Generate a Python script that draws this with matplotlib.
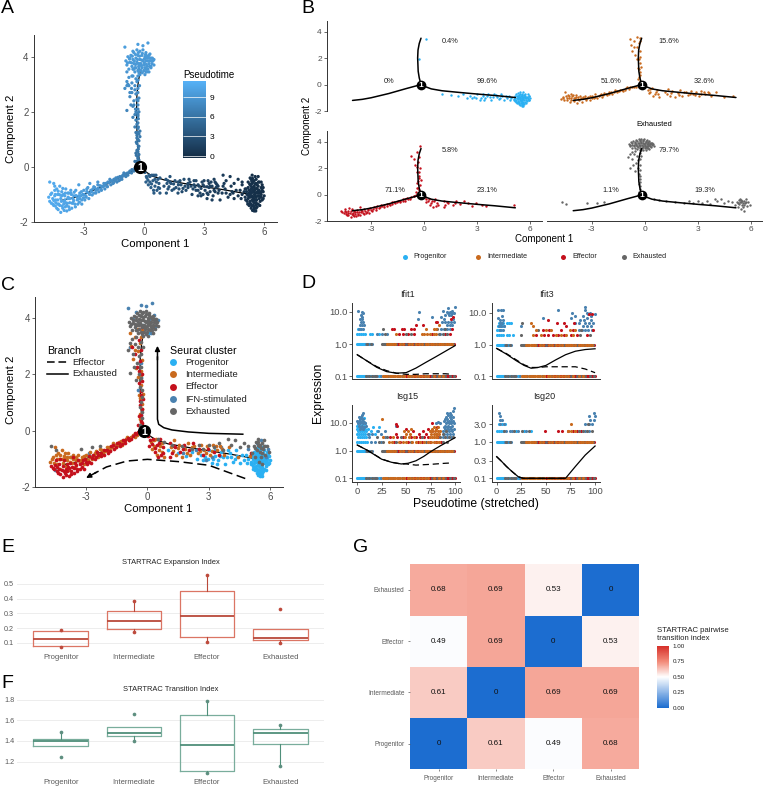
#!/usr/bin/env python3
"""Pseudotime trajectory, STARTRAC indices and pairwise transition heatmap."""

import matplotlib

matplotlib.use("Agg")
import matplotlib.pyplot as plt
from matplotlib.cm import ScalarMappable
from matplotlib.colors import LinearSegmentedColormap, Normalize

plt.rcParams["font.family"] = ["Liberation Sans", "DejaVu Sans"]
plt.rcParams["axes.unicode_minus"] = False

W, H = 763, 788
GREY = "#4D4D4D"

# cells on the trajectory: (component 1, component 2, pseudotime)
progenitor_cells = [
    (5.3, -1.0, .2), (5.4, -1.2, .2), (5.5, -.9, .1), (5.6, -1.1, .1), (5.7, -.95, .1), (5.2, -1.15, .3),
    (5.35, -1.35, .2), (5.5, -1.45, .2), (5.45, -1.25, .1), (5.6, -1.3, .1), (5.75, -1.15, .1), (5.85, -1.0, 0),
    (5.9, -.85, 0), (5.65, -.8, .1), (5.4, -.75, .2), (5.25, -.85, .3), (5.15, -1.0, .4), (5.3, -1.25, .2),
    (5.55, -1.05, .1), (5.4, -1.05, .2), (5.45, -1.4, .2), (5.6, -1.5, .1), (5.35, -1.5, .2), (5.5, -1.6, .1),
    (5.25, -1.4, .3), (5.7, -1.35, .1), (5.8, -1.25, 0), (6.0, -1.05, 0), (5.95, -.9, 0), (5.15, -1.25, .4),
    (5.05, -1.1, .5), (5.5, -.7, .1), (5.7, -.7, .1), (5.85, -.75, 0), (5.3, -.65, .2), (5.6, -.95, .1),
    (5.35, -.95, .2), (5.45, -.85, .2), (5.75, -1.05, .1), (5.2, -.75, .3), (5.55, -1.2, .1), (5.65, -1.45, .1),
    (5.3, -1.1, .2), (5.5, -1.3, .2), (5.4, -.6, .2), (5.85, -1.1, 0), (5.6, -.6, .1), (5.95, -1.15, 0),
    (5.42, -1.1, .2), (5.52, -1.0, .1), (5.62, -1.2, .1), (5.32, -.88, .2), (5.22, -1.05, .3), (5.72, -.85, .1),
    (5.48, -1.15, .1), (5.58, -1.38, .1), (5.38, -1.42, .2), (5.28, -1.32, .3), (5.68, -1.05, .1), (5.82, -.92, 0),
    (5.12, -.9, .4), (5.08, -1.2, .5), (5.18, -1.35, .4), (5.78, -1.4, .1), (5.9, -1.2, 0), (5.42, -.92, .2),
    (5.55, -.82, .1), (5.65, -.92, .1), (5.35, -.8, .2), (5.5, -1.52, .1), (5.42, -1.58, .2), (5.58, -1.6, .1),
    (4.9, -1.0, .5), (4.7, -1.05, .6), (4.6, -.85, .7), (4.4, -.9, .8), (4.2, -1.1, .9), (4.05, -.8, 1.0),
    (3.9, -.95, 1.1), (3.8, -1.2, 1.2), (3.6, -.75, 1.3), (3.45, -1.05, 1.4), (3.3, -.9, 1.5), (3.15, -1.15, 1.6),
    (3.0, -.7, 1.7), (2.8, -.95, 1.8), (2.6, -.85, 1.9), (2.4, -1.0, 2.0), (2.2, -.75, 2.2), (1.9, -.9, 2.4),
    (1.5, -.8, 2.7), (1.0, -.7, 3.0), (4.35, -.7, .85), (3.95, -.7, 1.05), (3.3, -.7, 1.5), (4.8, -.85, .55),
    (4.5, -1.15, .75), (3.7, -.95, 1.25), (3.4, -1.2, 1.45), (2.95, -1.0, 1.7), (-.3, 1.9, 6.5), (.1, 3.45, 9.0),
    (4.85, -1.15, .5), (4.3, -1.0, .85), (4.1, -.95, 1.0), (3.55, -.9, 1.35), (3.2, -1.0, 1.55), (2.7, -1.05, 1.9),
]
intermediate_cells = [
    (-4.75, -1.1, 10.9), (-4.6, -.95, 10.8), (-4.5, -.6, 10.7), (-4.4, -1.2, 10.7), (-4.35, -.8, 10.6),
    (-4.3, -1.0, 10.6), (-4.25, -1.35, 10.6), (-4.2, -.7, 10.5), (-4.15, -1.15, 10.5), (-4.1, -.9, 10.5),
    (-4.0, -1.25, 10.4), (-3.95, -1.05, 10.4), (-3.9, -.8, 10.3), (-3.85, -1.4, 10.3), (-3.8, -.95, 10.3),
    (-3.7, -1.15, 10.2), (-3.65, -.85, 10.2), (-3.55, -1.3, 10.1), (-3.5, -1.05, 10.1), (-3.4, -.85, 10.0),
    (-3.3, -1.15, 9.9), (-3.2, -.95, 9.8), (-3.1, -1.2, 9.7), (-3.0, -.85, 9.6), (-2.9, -1.05, 9.5),
    (-2.8, -.75, 9.4), (-2.7, -1.0, 9.3), (-2.55, -.8, 9.2), (-2.4, -.95, 9.0), (-2.3, -.65, 8.9),
    (-2.15, -.8, 8.8), (-2.0, -.6, 8.6), (-1.85, -.7, 8.4), (-1.7, -.45, 8.2), (-1.55, -.6, 8.0),
    (-1.4, -.4, 7.9), (-1.25, -.5, 7.7), (-1.05, -.3, 7.5), (-.9, -.35, 7.3), (-.7, -.15, 7.0), (-.5, -.15, 6.6),
    (-4.65, -1.0, 10.8), (-4.55, -1.15, 10.8), (-4.45, -.85, 10.7), (-4.42, -1.0, 10.7), (-4.28, -.88, 10.6),
    (-4.18, -1.02, 10.5), (-4.05, -.78, 10.4), (-4.02, -1.0, 10.4), (-3.92, -.95, 10.3), (-3.78, -1.1, 10.3),
    (-3.62, -1.0, 10.2), (-3.48, -.92, 10.1), (-3.38, -1.05, 10.0), (-3.25, -1.05, 9.9), (-3.12, -.9, 9.8),
    (-2.98, -1.0, 9.6), (-2.82, -.92, 9.5), (-2.62, -.9, 9.3), (-2.5, -.72, 9.2), (-2.35, -.82, 9.0),
    (-2.2, -.68, 8.9), (-2.05, -.72, 8.7), (-1.9, -.6, 8.5), (-1.75, -.58, 8.3), (-1.6, -.5, 8.1), (-1.45, -.5, 7.9),
    (-1.3, -.38, 7.8), (-1.15, -.42, 7.6), (-1.0, -.22, 7.4), (-.82, -.22, 7.2), (-.62, -.22, 6.9),
    (-.3, .3, 6.0), (-.35, .6, 6.2), (-.25, .95, 6.5), (-.4, 1.25, 6.7), (-.3, 1.6, 7.0), (-.45, 1.9, 7.3),
    (-.55, 2.2, 7.6), (-.25, 2.5, 7.9), (-.7, 2.55, 7.9), (-.45, 2.8, 8.2), (-.8, 3.0, 8.4), (-.35, 3.1, 8.5),
    (-.6, 3.3, 8.7), (-.85, 3.45, 8.9), (-.25, 3.55, 8.9), (-.45, 3.6, 9.0), (-.2, 1.3, 6.7), (-.3, 2.1, 7.5),
    (-.38, .42, 6.0), (-.28, .75, 6.3), (-.35, 1.15, 6.6), (-.32, 1.95, 7.3), (-.62, 2.85, 8.2), (-.3, 3.3, 8.7),
    (.15, -.4, 4.3), (.3, -.55, 4.2), (.4, -.3, 4.1), (.55, -.7, 3.9), (.7, -.45, 3.8), (.8, -.95, 3.7),
    (1.15, -.6, 3.4), (1.3, -.35, 3.2), (1.4, -.85, 3.1), (1.55, -.5, 3.0), (1.7, -.95, 2.9), (1.85, -.65, 2.7),
    (2.0, -.45, 2.6), (2.1, -.85, 2.5), (2.3, -.55, 2.4), (2.45, -.8, 2.2), (2.6, -.5, 2.1), (2.75, -.7, 2.0),
    (2.9, -.55, 1.9), (3.05, -.85, 1.8), (3.2, -.5, 1.7), (3.4, -.7, 1.5), (3.55, -.55, 1.4), (3.75, -.85, 1.3),
    (4.0, -.6, 1.1), (4.45, -.95, .8), (5.0, -.9, .45), (.22, -.65, 4.3), (.48, -.85, 4.0), (.62, -.55, 3.9),
    (.3, -.35, 4.2), (.72, -.75, 3.8), (1.25, -.72, 3.3), (1.48, -.62, 3.1), (1.95, -.78, 2.6), (2.2, -.6, 2.4),
    (2.55, -.72, 2.1), (2.85, -.78, 1.9), (3.15, -.72, 1.7), (3.35, -.55, 1.5), (3.65, -.65, 1.3),
]
effector_cells = [
    (-4.7, -1.25, 10.9), (-4.55, -1.35, 10.8), (-4.45, -1.05, 10.7), (-4.35, -1.5, 10.7), (-4.3, -1.2, 10.6),
    (-4.2, -1.4, 10.6), (-4.15, -1.65, 10.5), (-4.1, -1.05, 10.5), (-4.05, -1.5, 10.5), (-4.0, -1.35, 10.4),
    (-3.95, -1.2, 10.4), (-3.85, -1.6, 10.3), (-3.8, -1.15, 10.3), (-3.75, -1.45, 10.3), (-3.7, -1.3, 10.2),
    (-3.6, -1.5, 10.2), (-3.55, -1.15, 10.1), (-3.45, -1.35, 10.1), (-3.4, -1.05, 10.0), (-3.3, -1.35, 9.9),
    (-3.2, -1.15, 9.8), (-3.1, -1.35, 9.7), (-3.05, -1.0, 9.7), (-2.95, -1.2, 9.6), (-2.85, -.9, 9.5),
    (-2.75, -1.15, 9.4), (-2.65, -.85, 9.3), (-2.5, -.95, 9.1), (-2.45, -.75, 9.1), (-2.25, -.9, 8.8),
    (-2.1, -.7, 8.7), (-1.95, -.8, 8.5), (-1.8, -.55, 8.3), (-1.65, -.65, 8.1), (-1.5, -.45, 8.0),
    (-1.35, -.55, 7.8), (-1.2, -.35, 7.6), (-1.1, -.45, 7.5), (-.95, -.25, 7.4), (-.8, -.3, 7.2), (-.6, -.1, 6.8),
    (-.45, -.05, 6.5), (-3.65, -.95, 10.2), (-4.4, -1.3, 10.7), (-3.9, -1.3, 10.3), (-4.25, -1.0, 10.6),
    (-4.62, -1.32, 10.8), (-4.5, -1.22, 10.8), (-4.42, -1.42, 10.7), (-4.3, -1.35, 10.6), (-4.28, -1.55, 10.6),
    (-4.12, -1.25, 10.5), (-4.08, -1.42, 10.5), (-3.98, -1.58, 10.4), (-3.92, -1.45, 10.4), (-3.82, -1.32, 10.3),
    (-3.72, -1.55, 10.3), (-3.58, -1.32, 10.2), (-3.5, -1.22, 10.1), (-3.42, -1.45, 10.1), (-3.32, -1.2, 9.9),
    (-3.22, -1.28, 9.8), (-3.15, -1.05, 9.8), (-3.02, -1.12, 9.6), (-2.88, -1.1, 9.5), (-2.72, -.98, 9.4),
    (-2.58, -1.02, 9.2), (-2.4, -.85, 9.0), (-2.28, -.78, 8.9), (-2.12, -.85, 8.8), (-1.98, -.68, 8.6),
    (-1.82, -.72, 8.4), (-1.68, -.52, 8.2), (-1.52, -.58, 8.0), (-1.38, -.45, 7.8), (-1.22, -.48, 7.6),
    (-1.08, -.35, 7.5), (-.92, -.32, 7.3), (-.72, -.2, 7.0), (-.55, -.12, 6.7),
    (-.3, .35, 6.0), (-.4, .5, 6.1), (-.25, .75, 6.3), (-.35, 1.05, 6.6), (-.3, 1.4, 6.9), (-.4, 1.7, 7.1),
    (-.25, 2.0, 7.4), (-.5, 2.25, 7.6), (-.35, 2.45, 7.8), (-.6, 2.7, 8.1), (-.3, 2.85, 8.2), (-.75, 2.95, 8.3),
    (-.4, 3.2, 8.6), (-.25, 3.65, 9.0), (-.2, 1.1, 6.6), (-.45, .2, 5.9), (-.28, 1.75, 7.2), (-.33, .55, 6.2),
    (-.25, .25, 6.0), (-.38, .9, 6.4), (-.3, 1.25, 6.7), (-.42, 2.1, 7.5),
    (.05, -.2, 4.5), (.1, -.55, 4.4), (.25, -.3, 4.3), (.35, -.75, 4.2), (.45, -.5, 4.1), (.6, -.3, 3.9),
    (.65, -.85, 3.8), (.75, -.6, 3.8), (1.1, -.45, 3.5), (1.2, -.8, 3.3), (1.35, -.6, 3.2), (1.6, -.75, 3.0),
    (1.8, -.5, 2.8), (2.05, -.7, 2.6), (2.25, -.45, 2.4), (2.5, -.65, 2.2), (2.7, -.85, 2.0), (2.95, -.65, 1.8),
    (3.25, -.75, 1.6), (3.5, -.85, 1.4), (5.05, -.8, .5), (.12, -.35, 4.4), (.2, -.48, 4.3), (.38, -.62, 4.1),
    (.55, -.45, 4.0), (.5, -.95, 3.9), (.78, -.78, 3.7), (1.12, -.95, 3.4), (1.3, -.55, 3.2), (1.72, -.65, 2.9),
]
ifn_cells = [
    (-.95, 4.35, 9.7), (-.3, 4.45, 9.7), (-.05, 4.4, 9.6), (.2, 4.5, 9.6), (-.55, 4.2, 9.6), (.3, 4.1, 9.6),
    (-.7, 3.95, 9.5), (.1, 3.95, 9.5), (-.2, 3.75, 9.4), (.35, 3.65, 9.4), (.5, 3.9, 9.5), (-.5, 3.55, 9.3),
    (.15, 3.45, 9.3), (-.85, 2.95, 8.5), (-.3, 2.4, 7.9), (-.45, 1.45, 7.0), (-.3, .55, 6.2),
    (5.55, -.35, 0), (5.75, -.55, 0), (5.35, -.45, .1), (5.9, -.65, 0), (5.8, -.95, 0), (4.9, -.65, .5),
    (3.6, -.6, 1.4), (3.15, -.95, 1.6), (2.85, -1.05, 1.8), (2.35, -.7, 2.3), (1.75, -.8, 2.8),
    (-3.75, -.95, 10.2), (-2.85, -.8, 9.5), (-4.5, -1.4, 10.7),
]
exhausted_cells = [
    (-.9, 3.85, 9.6), (-.85, 3.7, 9.5), (-.8, 4.0, 9.6), (-.75, 3.55, 9.4), (-.7, 3.8, 9.5), (-.65, 4.05, 9.5),
    (-.6, 3.65, 9.4), (-.55, 3.9, 9.5), (-.5, 4.15, 9.5), (-.5, 3.75, 9.4), (-.45, 3.45, 9.2), (-.4, 3.95, 9.5),
    (-.4, 3.6, 9.3), (-.35, 4.25, 9.5), (-.35, 3.8, 9.4), (-.3, 3.5, 9.2), (-.3, 4.05, 9.5), (-.25, 3.65, 9.3),
    (-.2, 3.9, 9.4), (-.2, 4.2, 9.5), (-.15, 3.5, 9.2), (-.15, 3.75, 9.3), (-.1, 4.05, 9.4), (-.1, 3.6, 9.2),
    (-.05, 3.85, 9.3), (-.05, 4.25, 9.4), (0, 3.5, 9.2), (0, 3.7, 9.3), (.05, 4.0, 9.4), (.05, 3.6, 9.2),
    (.1, 3.85, 9.3), (.1, 4.15, 9.4), (.15, 3.65, 9.2), (.2, 3.95, 9.3), (.2, 3.55, 9.2), (.25, 3.75, 9.3),
    (.25, 4.05, 9.3), (.3, 3.85, 9.3), (.35, 3.95, 9.3), (.35, 3.6, 9.2), (.4, 3.75, 9.3), (.45, 3.85, 9.3),
    (.5, 3.7, 9.3), (-.2, 3.35, 9.0), (.05, 3.35, 9.0), (-.55, 3.3, 8.9), (.25, 3.45, 9.1), (-.75, 3.25, 8.8),
    (-.82, 3.78, 9.5), (-.72, 3.92, 9.5), (-.62, 3.78, 9.4), (-.58, 4.02, 9.5), (-.48, 3.85, 9.4), (-.42, 3.72, 9.3),
    (-.42, 4.08, 9.5), (-.32, 3.9, 9.4), (-.28, 3.75, 9.3), (-.28, 4.15, 9.5), (-.22, 4.02, 9.4), (-.12, 3.88, 9.3),
    (-.12, 3.68, 9.3), (-.08, 4.12, 9.4), (.02, 3.92, 9.3), (.02, 3.78, 9.3), (.08, 4.08, 9.4), (.12, 3.72, 9.3),
    (.18, 3.85, 9.3), (.18, 4.02, 9.3), (.28, 3.95, 9.3), (.28, 3.65, 9.2), (.38, 3.85, 9.3), (.42, 3.95, 9.3),
    (-.55, 3.55, 9.2), (-.25, 3.42, 9.1), (-.08, 3.42, 9.1), (.12, 3.55, 9.2),
    (-.85, 3.1, 8.6), (-.6, 3.05, 8.5), (-.95, 2.85, 8.4), (-.45, 2.95, 8.4), (-.7, 2.7, 8.2), (-.4, 2.65, 8.1),
    (-.5, 2.4, 7.9), (-.65, 2.25, 7.7), (-.3, 2.25, 7.7), (-.85, 2.05, 7.5), (-.4, 2.0, 7.4), (-.55, 1.8, 7.2),
    (-.3, 1.85, 7.2), (-.35, 1.55, 7.0), (-.25, 1.2, 6.7), (-.35, .85, 6.4), (-.25, .45, 6.1), (-.35, .2, 5.9),
    (-.3, 3.15, 8.6), (-.22, 2.95, 8.4), (-.3, 2.7, 8.1), (-.28, 1.45, 6.9), (-.3, 1.0, 6.5), (-.28, .65, 6.2),
    (5.2, -.55, .3), (5.3, -.4, .2), (5.4, -.3, .1), (5.45, -.55, .1), (5.5, -.75, .1), (5.6, -.45, .1),
    (5.65, -.65, .1), (5.7, -.35, 0), (5.75, -.85, .1), (5.85, -.55, 0), (5.35, -.7, .2), (5.5, -.5, .1),
    (5.55, -.95, .1), (5.25, -.95, .3), (5.95, -.75, 0), (5.45, -1.1, .1), (5.6, -1.2, .1), (5.1, -.8, .4),
    (5.28, -.62, .2), (5.38, -.52, .2), (5.55, -.62, .1), (5.42, -.42, .1), (5.72, -.55, .1), (5.62, -.78, .1),
    (4.9, -.55, .5), (4.7, -.45, .6), (4.5, -.6, .75), (4.3, -.35, .9), (4.1, -.5, 1.0), (3.95, -.3, 1.1),
    (3.7, -.7, 1.25), (3.5, -.45, 1.4), (3.25, -.6, 1.6), (3.0, -.5, 1.7), (2.7, -.65, 2.0), (2.5, -.5, 2.1),
    (2.2, -.65, 2.3), (1.7, -.55, 2.9), (1.2, -.5, 3.3), (.8, -.4, 3.7), (.5, -.3, 4.0),
    (-4.7, -.55, 10.8), (-4.45, -.7, 10.7), (-3.25, -.65, 9.9), (-2.7, -.6, 9.4), (-2.3, -.55, 9.0),
]

# branch curves of the trajectory
branch_right_x = [-.18, .1, .4, 1, 2, 3, 4, 5.15]
branch_right_y = [0, -.18, -.33, -.47, -.6, -.72, -.83, -.98]
branch_left_x = [-.18, -.5, -1, -2, -3, -3.5, -4.05]
branch_left_y = [0, -.12, -.3, -.68, -1.0, -1.12, -1.2]
branch_top_x = [-.18, -.28, -.34, -.37, -.35, -.28, -.18]
branch_top_y = [0, .5, 1, 2, 2.6, 3.1, 3.5]
node_x, node_y = -.18, 0

# percentage labels of panel B, one entry per facet: top, left, right
facet_percents = [
    ("0.4%", "0%", "99.6%"),
    ("15.6%", "51.6%", "32.6%"),
    ("5.8%", "71.1%", "23.1%"),
    ("79.7%", "1.1%", "19.3%"),
]

# guide arrows of panel C
arrow_solid_x = [4.66, 3, 2, 1.2, .8, .55, .49, .49]
arrow_solid_y = [-.13, -.1, -.05, .02, .1, .22, .4, 2.6]
arrow_dash_x = [4.78, 3, 1.5, 0, -1, -2, -2.6]
arrow_dash_y = [-1.7, -1.23, -1.1, -1.02, -1.08, -1.29, -1.52]

# panel D: expression rows that are nearly full, x positions per cluster
zero_row = {
    "P": [0, 1, 2, 3, 4, 5, 6, 7, 8, 13, 14, 22, 23],
    "F": [10, 11, 16, 17, 20, 24],
    "I": [26, 27, 29, 30, 33, 35, 36, 38, 39, 41, 43, 44, 47, 48, 52, 54, 57, 60, 63, 66, 69, 72, 78, 84, 88],
    "X": [9, 12, 15, 18, 19, 28, 31, 34, 37, 42, 46, 55, 62, 70, 76, 82, 86, 90, 95, 99],
    "E": [50, 51, 53, 56, 58, 59, 61, 64, 65, 67, 68, 71, 73, 74, 75, 77, 79, 80, 81, 83, 85, 87, 89, 91, 92, 93, 94, 96, 97, 98, 100],
}
one_row = {
    "P": [0, 1, 2, 3, 4, 5, 6, 7, 8, 12, 13],
    "F": [9, 11, 15, 26, 28],
    "I": [30, 32, 33, 35, 37, 39, 44, 47, 53, 56, 60, 63, 66, 70, 72, 75, 77, 80, 84, 86, 88, 91, 93, 95, 97],
    "X": [10, 14, 25, 27, 29, 31, 36, 40, 45, 50, 55, 59, 64, 68, 73, 78, 82, 87, 90, 94, 98],
    "E": [38, 41, 42, 43, 46, 48, 49, 51, 52, 54, 57, 58, 61, 62, 65, 67, 69, 71, 74, 76, 79, 81, 83, 85, 89, 92, 96, 99],
}

# panel D: sparse points as {cluster: {expression: [pseudotime, ...]}}
ifit1_points = {
    "P": {2: [0, 2, 4, 6, 8, 13, 15, 22], 3: [1, 3]},
    "F": {2: [20, 25, 30, 85], 3: [2, 4, 6, 86, 89, 92, 95], 4: [3, 5, 7, 92, 95, 97], 5: [4, 6, 87, 90, 93, 96, 99],
          6: [3, 5, 62, 89, 98], 7: [5, 76, 86], 8: [4, 90, 96, 94], 9: [6, 93, 97, 99], 10: [5, 63, 92, 95], 11: [1, 88, 97], 14: [100], 13: [93]},
    "I": {2: [40, 66, 68, 71, 74, 78, 80], 3: [78, 80, 70], 4: [84]},
    "X": {2: [28, 50, 55, 84, 88, 92], 3: [26, 82, 90]},
    "E": {2: [43, 47, 52, 58, 76, 90, 95], 3: [36, 38, 46, 48, 55, 58, 97], 4: [60, 67], 5: [80, 82], 6: [96], 7: [98]},
}
ifit3_points = {
    "P": {2: [0, 2, 4, 6, 11, 13, 17], 3: [0, 2, 4], 4: [1, 3, 5, 7], 5: [2, 4, 6, 11, 13, 15]},
    "F": {3: [3, 6, 84, 87, 90, 93, 97], 4: [2, 4, 7, 25, 88, 92, 96], 5: [5, 3, 80, 84, 90, 94, 98], 6: [3, 6, 85, 89, 96],
          7: [1, 47, 76, 92], 8: [5, 80, 88, 96], 9: [93, 100], 10: [77, 92, 95], 12: [1, 4, 6, 62, 90], 15: [90]},
    "I": {2: [37, 45, 60, 65, 70, 78], 3: [40, 50, 55, 75, 80], 4: [37], 5: [35]},
    "X": {2: [25, 85, 95], 3: [42, 86], 5: [26]},
    "E": {2: [40, 48, 52, 57, 62, 68, 76, 82, 92], 3: [47, 53, 65, 78, 98], 4: [70], 5: [61, 68, 79], 6: [52], 9: [97, 94]},
}
isg15_points = {
    "P": {2: [0, 2, 4, 6, 8, 10], 3: [1, 3, 5, 7, 9], 4: [0, 2, 4, 6, 8, 12, 18], 5: [1, 3, 5, 7, 9, 14, 20], 6: [0, 2, 6, 8, 11],
          7: [1, 3, 5, 16, 22], 8: [0, 2, 4, 7], 10: [1, 5, 8], 15: [5, 7]},
    "F": {2: [14, 18, 24], 3: [12, 28, 88, 92, 96], 4: [11, 15, 24, 89, 92, 95, 98], 5: [21, 28, 88, 91, 94, 97], 6: [3, 6, 90, 93, 96, 99],
          7: [4, 7, 89, 92, 95], 8: [2, 5, 9, 90, 93, 97, 40], 10: [1, 3, 6, 8, 91, 94, 96, 99, 80, 85], 11: [4, 7, 92, 96, 83],
          12: [0, 2, 5, 89, 94, 98], 14: [3, 6, 90, 92, 96], 17: [2, 4, 91, 95, 98], 20: [5, 93, 96], 23: [6, 92, 95], 35: [99], 28: [98]},
    "I": {2: [32, 36, 43, 47, 50, 56, 60, 64, 68, 72, 75, 78, 82, 84], 3: [26, 37, 49, 53, 58, 74, 76, 78, 80, 82], 4: [50, 54, 75, 78, 80, 82, 84],
          5: [48, 52, 74, 76, 79, 83, 85], 6: [55, 76, 80], 7: [78, 83], 14: [25]},
    "X": {2: [22, 26, 40, 55, 70, 88, 92], 3: [20, 30, 45, 66, 85, 90, 94, 98], 4: [88], 5: [91]},
    "E": {2: [38, 44, 52, 62, 66, 74, 80, 86], 3: [34, 41, 47, 55, 60, 64, 68, 72, 83], 4: [40, 63, 70], 5: [57, 67, 76], 6: [50, 72],
          9: [40], 8: [41], 7: [82], 10: [76]},
}
isg20_points = {
    "P": {2: [0, 2, 4, 6, 20, 28, 35], 3: [2, 5, 9]},
    "F": {2: [10, 14, 16, 22, 30, 90, 94], 3: [3, 7, 90, 94, 97], 4: [3, 5, 95, 99], 5: [3, 94, 100], 6: [2, 99]},
    "I": {2: [72, 76, 80], 3: [76]},
    "X": {2: [8, 18, 26, 33, 84, 88, 92, 97], 3: [93]},
    "E": {2: [49, 62, 66, 73, 78, 82, 86]},
}

# fitted expression curves of panel D
ifit1_solid_x = [0, 10, 20, 30, 40, 50, 60, 70, 80, 90, 100]
ifit1_solid_y = [.47, .3, .19, .14, .125, .13, .18, .27, .4, .6, .9]
ifit1_dash_x = [0, 10, 20, 30, 40, 50, 60, 70, 80, 90, 97]
ifit1_dash_y = [.47, .3, .2, .15, .125, .115, .115, .12, .12, .12, .115]
ifit3_solid_x = [0, 10, 20, 28, 35, 42, 50, 60, 70, 80, 90, 100]
ifit3_solid_y = [.76, .5, .31, .22, .18, .19, .22, .33, .48, .62, .7, .74]
ifit3_dash_x = [0, 10, 20, 28, 35, 42, 50, 60, 70, 80, 90, 100]
ifit3_dash_y = [.76, .52, .33, .23, .19, .19, .2, .2, .2, .2, .17, .13]
isg15_solid_x = [0, 10, 25, 35, 45, 52, 60, 68, 75, 85, 100]
isg15_solid_y = [1.6, 1.05, .49, .38, .33, .35, .43, .62, .92, 1.5, 2.95]
isg15_dash_x = [0, 10, 25, 35, 45, 50, 60, 75, 90, 97]
isg15_dash_y = [1.6, 1.05, .5, .38, .33, .33, .3, .32, .35, .36]
isg20_solid_x = [0, 5, 10, 16, 22, 27, 50, 70, 80, 90, 100]
isg20_solid_y = [.39, .29, .21, .15, .11, .1, .1, .1, .21, .43, .76]
isg20_dash_x = [0, 5, 10, 16, 22, 27, 50, 70]
isg20_dash_y = [.39, .29, .21, .15, .11, .1, .1, .1]

# panels E and F
box_labels = ["Progenitor", "Intermediate", "Effector", "Exhausted"]
exp_q1 = [.078, .192, .138, .118]
exp_med = [.129, .246, .282, .131]
exp_q3 = [.179, .318, .45, .192]
exp_whislo = [.078, .174, .109, .10]
exp_whishi = [.188, .381, .56, .192]
exp_low_pts = [.073, .174, .109, .10]
exp_high_pts = [.188, .381, .56, .327]
trans_q1 = [1.348, 1.445, 1.113, 1.368]
trans_med = [1.397, 1.477, 1.361, 1.477]
trans_q3 = [1.423, 1.532, 1.648, 1.519]
trans_whislo = [1.348, 1.397, 1.09, 1.158]
trans_whishi = [1.484, 1.532, 1.784, 1.558]
trans_low_pts = [1.245, 1.397, 1.09, 1.158]
trans_high_pts = [1.484, 1.665, 1.784, 1.558]

# panel G, rows from the bottom up
pairwise_index = [
    [0, .61, .49, .68],
    [.61, 0, .69, .69],
    [.49, .69, 0, .53],
    [.68, .69, .53, 0],
]

COLORS = {"P": "#2AB0F2", "I": "#C96A1E", "E": "#C4101C", "F": "#4A82B0", "X": "#666666"}
NAMES = {"P": "Progenitor", "I": "Intermediate", "E": "Effector", "F": "IFN-stimulated", "X": "Exhausted"}
CELLS = {"P": progenitor_cells, "I": intermediate_cells, "E": effector_cells, "F": ifn_cells, "X": exhausted_cells}

fig = plt.figure(figsize=(W / 100, H / 100), dpi=100)


def px_axes(left, top, right, bottom):
    return fig.add_axes([left / W, 1 - bottom / H, (right - left) / W, (bottom - top) / H])


def style_axes(ax, size):
    for side in ("top", "right"):
        ax.spines[side].set_visible(False)
    for side in ("left", "bottom"):
        ax.spines[side].set_linewidth(0.7)
        ax.spines[side].set_color("#333333")
    ax.tick_params(labelsize=size, colors=GREY, length=2, width=0.6, pad=1.5)


def draw_branches(ax, lw, zorder):
    for xs, ys in ((branch_right_x, branch_right_y), (branch_left_x, branch_left_y), (branch_top_x, branch_top_y)):
        ax.plot(xs, ys, color="black", lw=lw, zorder=zorder, solid_capstyle="round")


def draw_node(ax, size, fontsize):
    ax.plot(node_x, node_y, "o", color="black", ms=size, mew=0, zorder=6)
    ax.text(node_x, node_y, "1", color="white", fontsize=fontsize, fontweight="bold",
            ha="center", va="center_baseline", zorder=7)


def trajectory_axes(rect, ylim, size=7):
    ax = px_axes(*rect)
    ax.set_xlim(-5.51, 6.64)
    ax.set_ylim(*ylim)
    ax.set_xticks([-3, 0, 3, 6])
    ax.set_yticks([-2, 0, 2, 4])
    style_axes(ax, size)
    return ax


# panel A
ax_a = trajectory_axes((33.5, 35, 277, 222), (-2, 4.79))
all_cells = progenitor_cells + effector_cells + intermediate_cells + ifn_cells + exhausted_cells
draw_branches(ax_a, 0.9, 1)
cmap_a = LinearSegmentedColormap.from_list("pseudotime", ["#132B43", "#56B1F7"])
norm_a = Normalize(-.35, 11.45)
ax_a.scatter([c[0] for c in all_cells], [c[1] for c in all_cells], c=[c[2] for c in all_cells],
             cmap=cmap_a, norm=norm_a, s=5.5, linewidths=0, zorder=2)
draw_node(ax_a, 9.5, 7.5)

cax_a = px_axes(182.7, 81, 205.7, 158.3)
cbar_a = fig.colorbar(ScalarMappable(norm=norm_a, cmap=cmap_a), cax=cax_a, ticks=[0, 3, 6, 9])
cbar_a.outline.set_visible(False)
cax_a.tick_params(length=0, labelsize=6, pad=2.5)
cax_a.hlines([0, 3, 6, 9], [0, 0, 0, 0], [1, 1, 1, 1], color="white", lw=0.5,
             transform=cax_a.get_yaxis_transform())

# panel B
b_rects = [(326.7, 20.7, 541.7, 111), (547.4, 20.7, 762.3, 111), (326.7, 131, 541.7, 221.3), (547.4, 131, 762.3, 221.3)]
b_clusters = ["P", "I", "E", "X"]
for idx, rect in enumerate(b_rects):
    ax = trajectory_axes(rect, (-2, 4.82), size=6)
    cells = CELLS[b_clusters[idx]]
    ax.scatter([c[0] for c in cells], [c[1] for c in cells], s=3, linewidths=0,
               color=COLORS[b_clusters[idx]], zorder=2)
    draw_branches(ax, 1.1, 3)
    draw_node(ax, 7, 6)
    if idx % 2:
        ax.spines["left"].set_visible(False)
        ax.tick_params(axis="y", left=False, labelleft=False)
    if idx < 2:
        ax.spines["bottom"].set_visible(False)
        ax.tick_params(axis="x", bottom=False, labelbottom=False)

# panel C
ax_c = trajectory_axes((34.7, 296.7, 283.3, 487), (-2, 4.74))
draw_branches(ax_c, 0.9, 1)
for key in ("P", "F", "I", "E", "X"):
    ax_c.scatter([c[0] for c in CELLS[key]], [c[1] for c in CELLS[key]], s=7, linewidths=0,
                 color=COLORS[key], zorder=2)
draw_node(ax_c, 9.5, 7.5)
ax_c.plot(arrow_solid_x, arrow_solid_y, color="black", lw=1.1, zorder=4)
ax_c.annotate("", xy=(.49, 3.0), xytext=(.49, 2.5), zorder=4,
              arrowprops=dict(arrowstyle="-|>", color="black", lw=1.1, mutation_scale=7, shrinkA=0, shrinkB=0))
ax_c.plot(arrow_dash_x, arrow_dash_y, color="black", lw=1.1, ls=(0, (6, 3)), zorder=4)
ax_c.annotate("", xy=(-3.0, -1.68), xytext=(-2.5, -1.48), zorder=4,
              arrowprops=dict(arrowstyle="-|>", color="black", lw=1.1, mutation_scale=7, shrinkA=0, shrinkB=0))

# panel D
d_specs = [
    ("Ifit1", (352.3, 302.7, 460, 379.3), (.0807, 19.45), [.1, 1, 10], ["0.1", "1.0", "10.0"], ifit1_points,
     (ifit1_solid_x, ifit1_solid_y), (ifit1_dash_x, ifit1_dash_y)),
    ("Ifit3", (491.7, 302.7, 600, 379.3), (.0804, 21.1), [.1, 1, 10], ["0.1", "1.0", "10.0"], ifit3_points,
     (ifit3_solid_x, ifit3_solid_y), (ifit3_dash_x, ifit3_dash_y)),
    ("Isg15", (352.3, 405, 460, 481.7), (.0754, 44.7), [.1, 1, 10], ["0.1", "1.0", "10.0"], isg15_points,
     (isg15_solid_x, isg15_solid_y), (isg15_dash_x, isg15_dash_y)),
    ("Isg20", (491.7, 405, 600, 481.7), (.0807, 10), [.1, .3, 1, 3], ["0.1", "0.3", "1.0", "3.0"], isg20_points,
     (isg20_solid_x, isg20_solid_y), (isg20_dash_x, isg20_dash_y)),
]
for idx, (name, rect, ylim, yticks, ylabels, sparse, solid, dash) in enumerate(d_specs):
    ax = px_axes(*rect)
    ax.set_yscale("log")
    ax.set_xlim(-5, 105)
    ax.set_ylim(*ylim)
    ax.set_yticks(yticks)
    ax.set_yticklabels(ylabels)
    ax.minorticks_off()
    ax.set_xticks([0, 25, 50, 75, 100])
    style_axes(ax, 6.8)
    if idx < 2:
        ax.tick_params(axis="x", bottom=False, labelbottom=False)
    for key in ("P", "F", "E", "X", "I"):
        row_x = zero_row[key] + one_row[key]
        row_y = [.1] * len(zero_row[key]) + [1] * len(one_row[key])
        for level, xs in sparse[key].items():
            row_x = row_x + xs
            row_y = row_y + [level] * len(xs)
        ax.scatter(row_x, row_y, s=5, linewidths=0, color=COLORS[key], zorder=2)
    ax.plot(*solid, color="black", lw=0.9, zorder=3)
    ax.plot(*dash, color="black", lw=0.9, ls=(0, (5, 3)), zorder=3)


# panels E and F
def box_panel(rect, ylim, yticks, yfmt, stats, low_pts, high_pts, edge, mid, dot):
    ax = px_axes(*rect)
    ax.bxp(stats, positions=range(4), widths=.75, showcaps=False, showfliers=False,
           boxprops=dict(color=edge, lw=0.9), medianprops=dict(color=mid, lw=1.3, solid_capstyle="butt"),
           whiskerprops=dict(color=mid, lw=0.8), zorder=2)
    ax.scatter(range(4), low_pts, s=7, linewidths=0, color=dot, zorder=3)
    ax.scatter(range(4), high_pts, s=7, linewidths=0, color=dot, zorder=3)
    ax.set_xlim(-.6, 3.6)
    ax.set_ylim(*ylim)
    ax.set_yticks(yticks)
    ax.set_yticklabels([yfmt % v for v in yticks])
    ax.set_xticks(range(4))
    ax.set_xticklabels(box_labels)
    ax.grid(axis="y", color="#EDEDED", lw=0.7)
    ax.set_axisbelow(True)
    for spine in ax.spines.values():
        spine.set_visible(False)
    ax.tick_params(length=0, labelsize=5.5, colors="#5A5A5A", pad=3)
    ax.tick_params(axis="y", labelsize=5.2, pad=2)


def box_stats(q1, med, q3, lo, hi):
    return [dict(q1=a, med=b, q3=c, whislo=d, whishi=e) for a, b, c, d, e in zip(q1, med, q3, lo, hi)]


box_panel((17, 571, 324, 650), (.0527, .5865), [.1, .2, .3, .4, .5], "%.1f",
          box_stats(exp_q1, exp_med, exp_q3, exp_whislo, exp_whishi), exp_low_pts, exp_high_pts,
          "#DB7564", "#B9493A", "#BD4A3C")
box_panel((17, 695, 324, 775), (1.071, 1.845), [1.2, 1.4, 1.6, 1.8], "%.1f",
          box_stats(trans_q1, trans_med, trans_q3, trans_whislo, trans_whishi), trans_low_pts, trans_high_pts,
          "#79AD9C", "#4F8F7A", "#5E8F80")

# panel G
ax_g = px_axes(410, 564.3, 639.3, 769.3)
cmap_g = LinearSegmentedColormap.from_list(
    "pairwise", [(0, "#1C6DD0"), (.5, "white"), (.75, "#F28A78"), (1, "#D6302A")])
ax_g.pcolormesh(pairwise_index, cmap=cmap_g, vmin=0, vmax=1)
for row, values in enumerate(pairwise_index):
    for col, value in enumerate(values):
        ax_g.text(col + .5, row + .5, "%g" % value, ha="center", va="center", fontsize=5.8, color="#111111")
ax_g.set_xticks([.5, 1.5, 2.5, 3.5])
ax_g.set_xticklabels(box_labels)
ax_g.set_yticks([.5, 1.5, 2.5, 3.5])
ax_g.set_yticklabels(box_labels)
for spine in ax_g.spines.values():
    spine.set_visible(False)
ax_g.tick_params(labelsize=4.7, colors="#5A5A5A", length=1.5, width=0.5, pad=2.5)

cax_g = px_axes(656.7, 646, 669, 707.7)
cbar_g = fig.colorbar(ScalarMappable(norm=Normalize(0, 1), cmap=cmap_g), cax=cax_g, ticks=[0, .25, .5, .75, 1])
cbar_g.ax.set_yticklabels(["0.00", "0.25", "0.50", "0.75", "1.00"])
cbar_g.outline.set_visible(False)
cax_g.tick_params(length=0, labelsize=4.5, pad=2.5, colors="#222222")

# labels, legends and titles in figure pixels
over = fig.add_axes([0, 0, 1, 1])
over.set_xlim(0, W)
over.set_ylim(H, 0)
over.axis("off")
over.patch.set_visible(False)


def label(x, y, text, size, ha="center", **kwargs):
    over.text(x, y, text, fontsize=size, ha=ha, va="center", **kwargs)


for letter, x, y in (("A", 1, 8), ("B", 301, 8), ("C", 1, 285), ("D", 301, 283), ("E", 1, 548), ("F", 1, 683), ("G", 353, 548)):
    label(x, y, letter, 14, ha="left")

label(155, 243.7, "Component 1", 8.2)
label(11, 129.3, "Component 2", 8.2, rotation=90)
label(183, 75.3, "Pseudotime", 7, ha="left")

label(544.3, 239.3, "Component 1", 7)
label(307.3, 126, "Component 2", 7, rotation=90)
label(654.7, 124.3, "Exhausted", 5.4)
b_label_pos = [
    ((449.7, 41), (389.3, 81.3), (487, 81.3)),
    ((668.7, 41), (611, 81.3), (703.7, 81.3)),
    ((449.7, 150.3), (394.7, 190.3), (487, 190.3)),
    ((669.3, 150.3), (611, 190.3), (705, 190.3)),
]
for texts, positions in zip(facet_percents, b_label_pos):
    for text, (x, y) in zip(texts, positions):
        label(x, y, text, 5.3, color="#222222")
for key, mark_x, text_x in (("P", 405, 413.7), ("I", 478.3, 487.3), ("E", 563.3, 572.3), ("X", 624, 632.7)):
    over.plot(mark_x, 257, "o", ms=3.6, mew=0, color=COLORS[key])
    label(text_x, 257, NAMES[key], 5.2, ha="left", color="#222222")

label(158.3, 509, "Component 1", 8.2)
label(11, 390, "Component 2", 8.2, rotation=90)
label(47.3, 351, "Branch", 7.7, ha="left")
over.plot([47.3, 68.3], [362.3, 362.3], color="black", lw=1.1, ls=(0, (5, 2.5)))
over.plot([47.3, 68.3], [373.7, 373.7], color="black", lw=1.1)
label(72.7, 362.3, "Effector", 6.8, ha="left", color="#222222")
label(72.7, 373.7, "Exhausted", 6.8, ha="left", color="#222222")
label(170, 351, "Seurat cluster", 7.7, ha="left")
for key, y in zip(("P", "I", "E", "F", "X"), (362.3, 374.3, 386.7, 399, 411)):
    over.plot(172.7, y, "o", ms=5, mew=0, color=COLORS[key])
    label(185, y, NAMES[key], 6.8, ha="left", color="#222222")

for (title, rect, *_), x, y in zip(d_specs, (407.3, 546, 407.3, 544.3), (294, 294, 396, 396)):
    label(x, y, title, 6.5, color="#222222")
label(318.3, 392.7, "Expression", 8.7, rotation=90)
label(476.3, 504.3, "Pseudotime (stretched)", 8.7)

label(170.7, 562.7, "STARTRAC Expansion Index", 5.4, color="#222222")
label(170.7, 689.3, "STARTRAC Transition Index", 5.4, color="#222222")
label(656.7, 630, "STARTRAC pairwise", 5.6, ha="left", color="#222222")
label(656.7, 638.5, "transition index", 5.6, ha="left", color="#222222")

fig.savefig("out.png", dpi=100)
